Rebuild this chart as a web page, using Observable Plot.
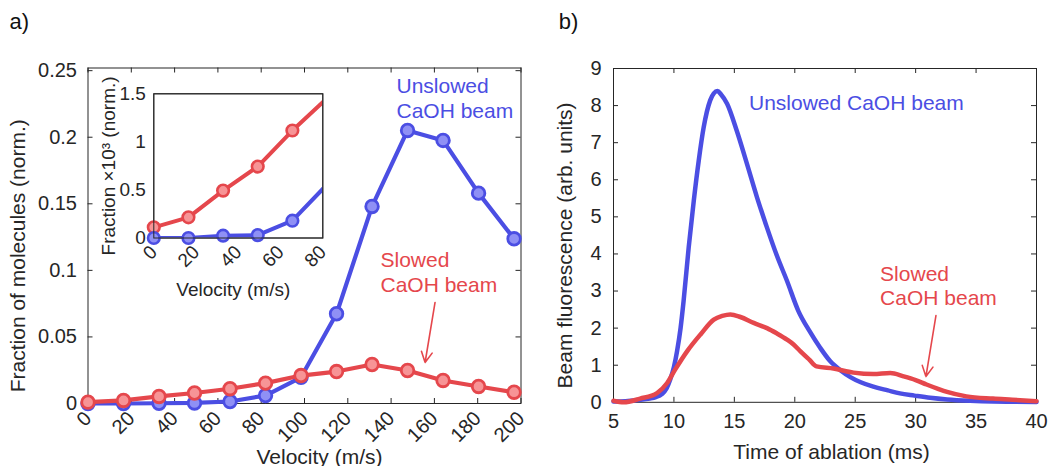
<!DOCTYPE html>
<html>
<head>
<meta charset="utf-8">
<script src="https://cdn.jsdelivr.net/npm/d3@7"></script>
<script src="https://cdn.jsdelivr.net/npm/@observablehq/plot@0.6"></script>
<style>
  html, body { margin: 0; padding: 0; background: #fff; }
  #fig { position: relative; width: 1048px; height: 466px; overflow: hidden; background: #fff; }
  #fig svg { position: absolute; top: 0; }
</style>
</head>
<body>
<div id="fig"></div>
<script>
// ---------- Panel a: velocity distribution ----------
const velocity = [0, 16.4, 32.8, 49.2, 65.6, 82, 98.4, 114.8, 131.2, 147.6, 164, 180.4, 196.8];
const unslowedFraction = [0, 0, 0.0002, 0.0004, 0.0015, 0.006, 0.0197, 0.0674, 0.148, 0.2051, 0.1976, 0.158, 0.1237];
const slowedFraction = [0.001, 0.0023, 0.0053, 0.0079, 0.0111, 0.0153, 0.021, 0.024, 0.0293, 0.0248, 0.0173, 0.0128, 0.0085];
const velocityTicks = [0, 20, 40, 60, 80, 100, 120, 140, 160, 180, 200];
const fractionTicks = [0, 0.05, 0.1, 0.15, 0.2, 0.25];

// ---------- Panel a inset (fraction x 10^3) ----------
const insetVelocity = [0, 16.4, 32.8, 49.2, 65.6, 82];
const insetUnslowed = [0, 0, 0.024, 0.03, 0.18, 0.556];
const insetSlowed = [0.111, 0.215, 0.493, 0.743, 1.118, 1.454];
const insetVelocityTicks = [0, 20, 40, 60, 80];
const insetFractionTicks = [0, 0.5, 1, 1.5];

// ---------- Panel b: time of flight traces ----------
const timeUnslowed = [5, 6, 7, 8, 8.5, 9, 9.4, 9.7, 10, 10.26, 10.55, 10.8, 11.22, 11.64, 12.05, 12.46, 13.0, 13.3, 13.6, 13.9, 14.4, 15.2, 16.05, 16.88, 17.7, 18.5, 19.36, 20.3, 21.2, 22.1, 22.9, 23.8, 24.6, 25.46, 26.5, 27.7, 28.7, 29.9, 31.2, 32.6, 34.5, 36.4, 38, 40];
const fluorUnslowed = [0.02, 0.03, 0.06, 0.1, 0.14, 0.22, 0.38, 0.62, 0.95, 1.38, 2.0, 2.73, 4.17, 5.43, 6.51, 7.41, 8.14, 8.33, 8.39, 8.3, 8.05, 7.32, 6.42, 5.52, 4.71, 3.97, 3.27, 2.46, 1.93, 1.47, 1.12, 0.86, 0.68, 0.54, 0.42, 0.32, 0.24, 0.18, 0.12, 0.075, 0.04, 0.02, 0.015, 0.01];
const timeSlowed = [5, 5.85, 7.2, 8.6, 9.44, 10.1, 11.1, 12.2, 13.3, 14.0, 14.67, 15.5, 16.6, 17.7, 18.5, 19.36, 19.9, 20.45, 21.2, 21.8, 23.2, 24.86, 26.5, 27.9, 29.0, 30.0, 30.9, 31.8, 32.6, 34.2, 36.4, 38, 40];
const fluorSlowed = [0.04, 0.0, 0.1, 0.25, 0.52, 0.88, 1.38, 1.83, 2.23, 2.33, 2.37, 2.3, 2.14, 2.0, 1.86, 1.69, 1.56, 1.38, 1.15, 0.97, 0.91, 0.8, 0.76, 0.79, 0.7, 0.6, 0.48, 0.37, 0.28, 0.16, 0.1, 0.07, 0.03];
const timeTicks = [5, 10, 15, 20, 25, 30, 35, 40];
const fluorTicks = [0, 1, 2, 3, 4, 5, 6, 7, 8, 9];

// ---------- Annotations (data coordinates) ----------
const annotA = [
  {x: 142.5, y: 0.2144, text: "Unslowed\nCaOH beam", series: "unslowed"},
  {x: 135.1, y: 0.0836, text: "Slowed\nCaOH beam", series: "slowed"}
];
const arrowA = [{x1: 160.3, y1: 0.0759, x2: 155.7, y2: 0.0308}];
const annotB = [
  {x: 16.21, y: 7.89, text: "Unslowed CaOH beam", series: "unslowed"},
  {x: 27.06, y: 2.61, text: "Slowed\nCaOH beam", series: "slowed"}
];
const arrowB = [{x1: 31.68, y1: 2.34, x2: 30.85, y2: 0.695}];

// ---------- Styling ----------
const FONT = '"Liberation Sans", Arial, Helvetica, sans-serif';
const INK = "#262626";
const BLUE = "#4b4ee3", BLUE_FILL = "#8f90f5";
const RED = "#e5474c", RED_FILL = "#f79496";
const TICK = 5;
const colorOf = s => s === "unslowed" ? BLUE : RED;

const mainTable = velocity.map((v, i) => ({v, unslowed: unslowedFraction[i], slowed: slowedFraction[i]}));
const insetTable = insetVelocity.map((v, i) => ({v, unslowed: insetUnslowed[i], slowed: insetSlowed[i]}));
const traceU = timeUnslowed.map((t, i) => ({t, f: fluorUnslowed[i]}));
const traceS = timeSlowed.map((t, i) => ({t, f: fluorSlowed[i]}));

// inward MATLAB-style ticks on all four sides of a box
function boxTicks(xt, yt, W, H) {
  return [
    Plot.ruleX(xt, {x: d => d, stroke: INK, strokeWidth: 1, insetTop: H - TICK}),
    Plot.ruleX(xt, {x: d => d, stroke: INK, strokeWidth: 1, insetBottom: H - TICK}),
    Plot.ruleY(yt, {y: d => d, stroke: INK, strokeWidth: 1, insetRight: W - TICK}),
    Plot.ruleY(yt, {y: d => d, stroke: INK, strokeWidth: 1, insetLeft: W - TICK})
  ];
}

const fig = document.getElementById("fig");

// ===== Panel a main =====
const A = {width: 530, height: 466, ml: 87.5, mr: 9.5, mt: 67.5, mb: 63};
const mainPlot = Plot.plot({
  width: A.width, height: A.height,
  marginLeft: A.ml, marginRight: A.mr, marginTop: A.mt, marginBottom: A.mb,
  style: {fontFamily: FONT, fontSize: "20px", color: INK, background: "transparent", overflow: "visible"},
  x: {domain: [0, 200]},
  y: {domain: [0, 0.252]},
  marks: [
    ...boxTicks(velocityTicks, fractionTicks, A.width - A.ml - A.mr, A.height - A.mt - A.mb),
    Plot.frame({stroke: INK, strokeWidth: 1}),
    Plot.axisX({ticks: velocityTicks, anchor: "bottom", tickSize: 0, tickPadding: 11.5, tickRotate: -45, label: null, fill: INK}),
    Plot.axisY({ticks: fractionTicks, anchor: "left", tickSize: 0, tickPadding: 11, tickFormat: d => String(d), label: null, fill: INK}),
    Plot.line(mainTable, {x: "v", y: "unslowed", stroke: BLUE, strokeWidth: 4.2}),
    Plot.dot(mainTable, {x: "v", y: "unslowed", r: 6.3, fill: BLUE_FILL, stroke: BLUE, strokeWidth: 2.8}),
    Plot.line(mainTable, {x: "v", y: "slowed", stroke: RED, strokeWidth: 4.2}),
    Plot.dot(mainTable, {x: "v", y: "slowed", r: 6.3, fill: RED_FILL, stroke: RED, strokeWidth: 2.8}),
    Plot.text(annotA, {x: "x", y: "y", text: "text", fill: d => colorOf(d.series), textAnchor: "start", lineAnchor: "bottom", lineHeight: 1.19, fontSize: 21}),
    Plot.arrow(arrowA, {x1: "x1", y1: "y1", x2: "x2", y2: "y2", stroke: RED, strokeWidth: 1.6, headLength: 11, headAngle: 55}),
    Plot.text(["Fraction of molecules (norm.)"], {frameAnchor: "left", text: d => d, rotate: -90, dx: -69.5, dy: 20, fontSize: 21, fill: INK, textAnchor: "middle", lineAnchor: "middle"}),
    Plot.text(["Velocity (m/s)"], {frameAnchor: "bottom", text: d => d, dx: 15, dy: 60, fontSize: 21, fill: INK, textAnchor: "middle", lineAnchor: "bottom"}),
    Plot.text(["a)"], {frameAnchor: "top-left", text: d => d, dx: -78.5, dy: -39.5, fontSize: 22, fill: "#111", textAnchor: "start", lineAnchor: "bottom"})
  ]
});
mainPlot.style.left = "0px";
fig.appendChild(mainPlot);

// ===== Panel a inset =====
const insetPlot = Plot.plot({
  width: 530, height: 466,
  marginLeft: 153.3, marginRight: 530 - 322.3, marginTop: 93.3, marginBottom: 466 - 237.5,
  style: {fontFamily: FONT, fontSize: "19px", color: INK, background: "transparent", overflow: "visible"},
  x: {domain: [0, 80]},
  y: {domain: [0, 1.5]},
  marks: [
    Plot.frame({fill: "white", stroke: INK, strokeWidth: 1}),
    Plot.line(insetTable, {x: "v", y: "slowed", stroke: RED, strokeWidth: 4, clip: true}),
    Plot.line(insetTable, {x: "v", y: "unslowed", stroke: BLUE, strokeWidth: 4, clip: true}),
    Plot.dot(insetTable, {filter: d => d.v <= 80, x: "v", y: "slowed", r: 5.8, fill: RED_FILL, stroke: RED, strokeWidth: 2.6}),
    Plot.dot(insetTable, {filter: d => d.v <= 80, x: "v", y: "unslowed", r: 5.8, fill: BLUE_FILL, stroke: BLUE, strokeWidth: 2.6}),
    Plot.axisX({ticks: insetVelocityTicks, anchor: "bottom", tickSize: 0, tickPadding: 11, tickRotate: -45, label: null, fill: INK}),
    Plot.axisY({ticks: insetFractionTicks, anchor: "left", tickSize: 0, tickPadding: 8, tickFormat: d => String(d), label: null, fill: INK}),
    Plot.frame({stroke: INK, strokeWidth: 1}),
    Plot.text(["Fraction ×10³ (norm.)"], {frameAnchor: "left", text: d => d, rotate: -90, dx: -45, dy: 0, fontSize: 19, fill: INK, textAnchor: "middle", lineAnchor: "middle"}),
    Plot.text(["Velocity (m/s)"], {frameAnchor: "bottom", text: d => d, dx: -5, dy: 57.5, fontSize: 19, fill: INK, textAnchor: "middle", lineAnchor: "bottom"})
  ]
});
insetPlot.style.left = "0px";
fig.appendChild(insetPlot);

// ===== Panel b =====
const B = {width: 518, height: 466, ml: 83, mr: 12, mt: 68, mb: 64.2};
const rightPlot = Plot.plot({
  width: B.width, height: B.height,
  marginLeft: B.ml, marginRight: B.mr, marginTop: B.mt, marginBottom: B.mb,
  style: {fontFamily: FONT, fontSize: "20px", color: INK, background: "transparent", overflow: "visible"},
  x: {domain: [5, 40]},
  y: {domain: [0, 9]},
  marks: [
    ...boxTicks(timeTicks, fluorTicks, B.width - B.ml - B.mr, B.height - B.mt - B.mb),
    Plot.frame({stroke: INK, strokeWidth: 1}),
    Plot.axisX({ticks: timeTicks, anchor: "bottom", tickSize: 0, tickPadding: 11.5, label: null, fill: INK}),
    Plot.axisY({ticks: fluorTicks, anchor: "left", tickSize: 0, tickPadding: 12, label: null, fill: INK}),
    Plot.line(traceU, {x: "t", y: "f", stroke: BLUE, strokeWidth: 4.5, curve: "monotone-x"}),
    Plot.line(traceS, {x: "t", y: "f", stroke: RED, strokeWidth: 4.5, curve: "monotone-x"}),
    Plot.text(annotB, {x: "x", y: "y", text: "text", fill: d => colorOf(d.series), textAnchor: "start", lineAnchor: "bottom", lineHeight: 1.19, fontSize: 21}),
    Plot.arrow(arrowB, {x1: "x1", y1: "y1", x2: "x2", y2: "y2", stroke: RED, strokeWidth: 1.6, headLength: 11, headAngle: 55}),
    Plot.text(["Beam fluorescence (arb. units)"], {frameAnchor: "left", text: d => d, rotate: -90, dx: -48, dy: 10, fontSize: 21, fill: INK, textAnchor: "middle", lineAnchor: "middle"}),
    Plot.text(["Time of ablation (ms)"], {frameAnchor: "bottom", text: d => d, dx: 6.5, dy: 56.5, fontSize: 21, fill: INK, textAnchor: "middle", lineAnchor: "bottom"}),
    Plot.text(["b)"], {frameAnchor: "top-left", text: d => d, dx: -54.7, dy: -40, fontSize: 22, fill: "#111", textAnchor: "start", lineAnchor: "bottom"})
  ]
});
rightPlot.style.left = "530px";
fig.appendChild(rightPlot);
</script>
</body>
</html>
